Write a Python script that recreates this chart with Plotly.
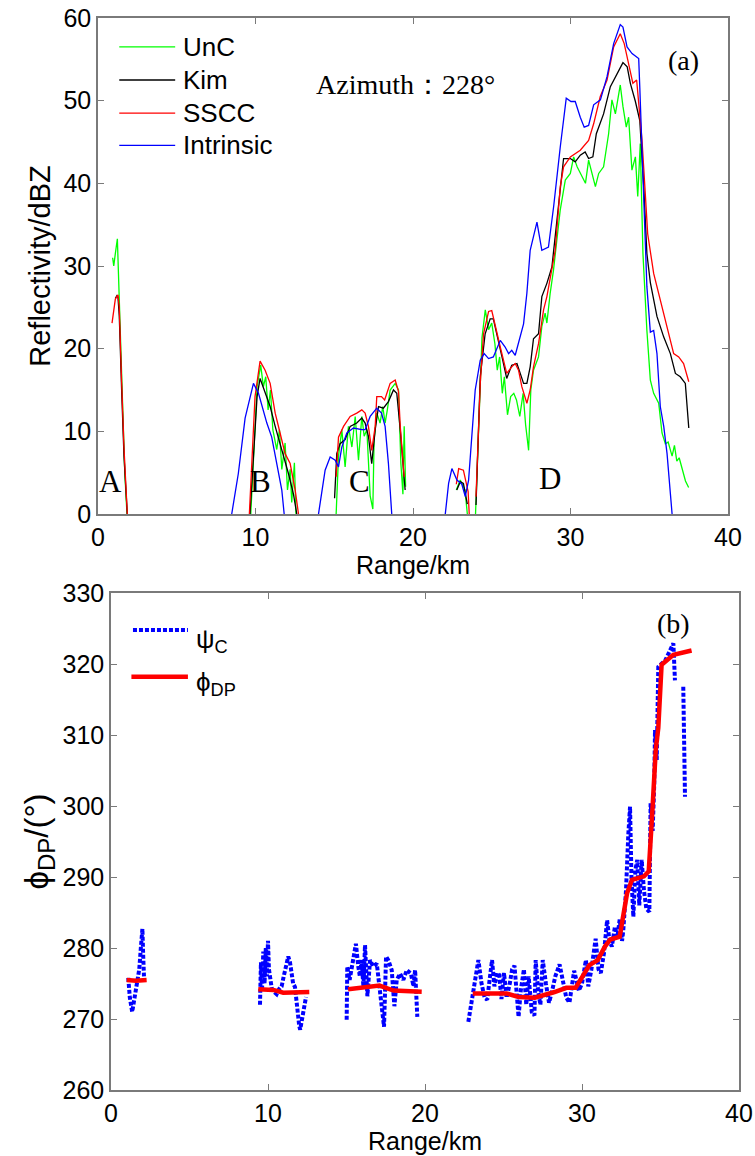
import plotly.graph_objects as go

# ---- panel (a): reflectivity along the ray, segments split by None ----
unc_x = [0.93, 1.0, 1.1, 1.23, 1.3, 1.35, 1.5, 1.6, 1.7, 1.84, None,
         9.7, 10.1, 10.33, 10.5, 10.65, 10.8, 10.95, 11.1, 11.35, 11.52, 11.67, 11.88, 12.03, 12.2, 12.3, 12.47, 12.57, None,
         15.12, 15.27, 15.48, 15.69, 15.9, 16.12, 16.33, 16.54, 16.75, 16.9, 17.07, 17.28, 17.45, 17.53, 17.7, 17.91,
         18.08, 18.23, 18.37, 18.55, 18.87, 19.08, 19.23, 19.36, 19.44, 19.53, None,
         22.75, 23.0, 23.3, 23.45, None,
         23.97, 24.17, 24.38, 24.59, 24.8, 25.0, 25.2, 25.35, 25.5, 25.67, 25.8, 26.0, 26.2, 26.4, 26.57, 26.78, 26.99,
         27.15, 27.34, 27.48, 27.65, 27.97, 28.18, 28.39, 28.5, 28.71, 28.92, 29.35, 29.67, 29.99, 30.2, 30.42, 30.74,
         30.95, 31.15, 31.36, 31.58, 31.79, 32.1, 32.42, 32.63, 32.85, 33.16, 33.33, 33.54, 33.69, 33.9, 34.12, 34.27,
         34.43, 34.6, 34.85, 35.07, 35.28, 35.6, 35.81, 36.02, 36.2, 36.45, 36.6, 36.75, 36.9, 37.1, 37.3, 37.5]
unc_y = [31, 30, 31.5, 33.3, 29, 26.5, 17, 11, 5, 0, None,
         0, 15.4, 18.0, 15.4, 16.6, 12.6, 15.0, 10.2, 7.8, 10.2, 5.4, 8.6, 2.9, 5.4, 1.4, 6.2, 0, None,
         0, 7.0, 10.2, 5.7, 10.6, 8.1, 11.8, 6.5, 11.8, 9.4, 10.2, 2.2, 0.6, 9.0, 12.2, 11.0,
         13.0, 11.0, 12.6, 15.0, 15.8, 15.0, 6.1, 2.4, 10.6, 3.3, None,
         2.9, 4.1, 2.9, 0, None,
         0, 11.2, 21.3, 24.7, 22.3, 23.1, 20.6, 17.4, 19.0, 14.6, 16.6, 12.0, 14.2, 14.6, 13.8, 11.8, 14.6,
         10.8, 7.7, 15.0, 17.4, 19.0, 22.7, 24.3, 23.1, 26.7, 29.5, 36.8, 40.4, 41.2, 43.2, 42.0, 40.8,
         40.0, 42.8, 41.2, 39.6, 41.2, 42.0, 46.0, 50.1, 48.4, 51.9, 49.3, 46.8, 48.0, 41.6, 43.2, 38.4,
         44.8, 31.5, 22.2, 16.2, 14.6, 13.4, 9.8, 8.5, 8.7, 7.0, 8.3, 6.4, 6.8, 5.2, 4.0, 3.2]

kim_x = [1.1, 1.2, 1.27, 1.35, 1.5, 1.65, 1.86, None,
         9.65, 10.1, 10.29, 10.61, 10.93, 11.25, 11.56, 11.78, 12.09, 12.41, 12.62, None,
         15.02, 15.16, 15.37, 15.69, 16.01, 16.43, 16.75, 16.96, 17.17, 17.38, 17.6, 17.81, 18.12, 18.44, 18.76,
         18.97, 19.19, 19.36, 19.5, None,
         22.78, 23.0, 23.2, 23.45, None,
         24.0, 24.27, 24.58, 24.9, 25.1, 25.33, 25.65, 25.95, 26.27, 26.6, 26.8, 27.02, 27.23, 27.44, 27.65, 27.97,
         28.18, 28.5, 28.82, 28.93, 29.31, 29.56, 29.99, 30.3, 30.62, 30.93, 31.15, 31.42, 31.64, 32.1, 32.53, 32.96,
         33.33, 33.6, 33.8, 34.12, 34.4, 34.65, 34.85, 35.07, 35.49, 35.92, 36.34, 36.66, 36.97, 37.29, 37.51]
kim_y = [26.1, 26.4, 26.2, 24, 15, 7, 0, None,
         0, 14.2, 16.4, 14.8, 13.0, 10.6, 8.5, 7.3, 4.9, 2.4, 0, None,
         1.9, 7.3, 8.5, 9.0, 10.6, 11.0, 11.6, 11.0, 9.4, 6.1, 10.2, 13.0, 12.8, 13.6, 15.0,
         14.6, 10.2, 6.1, 2.9, None,
         2.9, 3.9, 3.7, 1.2, None,
         1.1, 16.6, 21.8, 23.6, 23.6, 21.8, 19.0, 16.4, 18.0, 18.2, 17.0, 15.8, 15.8, 17.8, 21.2, 21.8,
         26.3, 27.9, 29.9, 31.9, 38.4, 43.0, 43.0, 42.6, 43.4, 43.8, 43.0, 43.2, 46.0, 48.4, 51.7, 53.3,
         54.6, 54.1, 52.1, 49.9, 47.6, 39.6, 31.5, 28.0, 23.9, 21.4, 19.4, 17.0, 16.6, 15.8, 10.4]

sscc_x = [0.89, 1.0, 1.1, 1.27, 1.35, 1.5, 1.65, 1.86, None,
          9.61, 9.97, 10.29, 10.61, 10.93, 11.25, 11.56, 11.88, 12.2, 12.52, 12.73, None,
          15.12, 15.27, 15.59, 16.01, 16.43, 16.75, 16.96, 17.17, 17.38, 17.6, 17.7, 18.0, 18.2, 18.55, 18.87,
          19.08, 19.19, 19.36, 19.44, None,
          22.75, 22.9, 23.2, 23.5, 23.57, None,
          24.0, 24.27, 24.48, 24.8, 25.0, 25.2, 25.54, 25.95, 26.27, 26.49, 26.7, 26.91, 27.23, 27.44, 27.65, 27.97,
          28.29, 28.5, 28.82, 29.03, 29.35, 29.56, 29.99, 30.62, 31.15, 31.47, 31.89, 32.32, 32.74, 33.16, 33.41,
          33.69, 33.96, 34.2, 34.33, 34.54, 34.75, 34.9, 35.28, 35.71, 36.13, 36.55, 36.87, 37.18, 37.51]
sscc_y = [23.1, 25, 26, 26.5, 25, 16, 8, 0, None,
          0, 14.2, 18.5, 17.4, 15.8, 12.2, 9.8, 7.3, 6.1, 2.9, 0, None,
          4.5, 9.3, 10.6, 11.8, 12.2, 12.6, 12.2, 10.6, 7.7, 10.6, 14.2, 14.2, 13.8, 15.8, 16.2,
          14.8, 10.6, 7.0, 4.5, None,
          3.6, 5.5, 5.3, 2.7, 0, None,
          2.1, 15.8, 21.8, 24.5, 24.6, 23.1, 20.2, 17.0, 17.8, 18.2, 17.4, 15.4, 13.4, 15.0, 17.8, 20.6,
          24.7, 26.3, 29.5, 31.9, 39.6, 42.0, 43.2, 44.0, 45.2, 47.2, 50.5, 52.5, 56.5, 58.1, 56.9,
          54.5, 52.1, 52.5, 49.5, 45.2, 38.7, 33.9, 29.1, 25.9, 22.6, 19.4, 19.0, 18.2, 16.0]

intr_x = [8.49, 8.91, 9.34, 9.87, 10.19, 10.72, 11.03, 11.35, 11.67, 11.82, None,
          14.0, 14.42, 14.74, 15.06, 15.27, 15.48, 15.8, 16.22, 16.75, 16.96, 17.28, 17.7, 18.0, 18.23, 18.44, 18.65, None,
          22.05, 22.26, 22.47, 22.79, 23.1, 23.32, 23.53, 23.95, 24.27, 24.52, 24.8, 25.1, 25.54, 25.85, 26.07,
          26.27, 26.49, 26.7, 27.02, 27.23, 27.44, 27.87, 28.18, 28.6, 28.93, 29.35, 29.73, 30.03, 30.3, 30.62,
          30.87, 31.15, 31.47, 31.9, 32.32, 32.74, 33.16, 33.33, 33.59, 33.91, 34.33, 34.4, 34.54, 34.68, 34.85,
          35.07, 35.28, 35.49, 35.7, 35.92, 36.13, 36.34, 36.45]
intr_y = [0, 4.9, 11.6, 15.8, 14.6, 11.0, 9.3, 6.1, 2.9, 0, None,
          0, 5.3, 6.9, 6.5, 5.7, 8.1, 9.8, 10.4, 10.2, 10.2, 11.8, 12.8, 12.2, 10.6, 6.1, 0, None,
          0, 3.7, 5.5, 4.1, 3.6, 2.1, 4.1, 15.0, 18.6, 19.4, 18.8, 19.0, 21.0, 20.2, 19.4,
          19.8, 19.2, 20.6, 23.0, 26.7, 31.9, 35.3, 31.9, 32.3, 37.2, 44.4, 50.3, 49.9, 49.9, 48.0,
          46.8, 47.0, 49.5, 50.1, 52.9, 56.9, 59.2, 58.9, 56.5, 55.7, 55.1, 51.6, 43.6, 35.5, 27.5,
          22.0, 22.2, 19.4, 13.0, 10.6, 7.3, 2.5, 0]

# ---- panel (b): phase ----
psi_x = [1.1, 1.2, 1.35, 1.5, 1.65, 1.8, 1.9, 2.0, 2.05, 2.1, None,
         9.49, 9.55, 9.62, 9.7, 9.78, 9.86, 9.93, 10.0, 10.06, 10.13, 10.24, 10.4, 10.55, 10.7, 10.87, 11.0, 11.15,
         11.29, 11.4, 11.5, 11.6, 11.72, 11.8, 11.87, 11.99, 12.05, 12.15, 12.25, 12.42, None,
         15.01, 15.05, 15.2, 15.3, 15.44, 15.6, 15.75, 15.85, 15.96, 16.08, 16.18, 16.33, 16.5, 16.7, 16.93, 17.13,
         17.3, 17.39, 17.52, 17.66, 17.88, 18.05, 18.2, 18.41, 18.62, 18.84, 19.1, 19.27, 19.37, 19.51, None,
         22.76, 23.0, 23.2, 23.4, 23.6, 23.8, 23.96, 24.1, 24.27, 24.42, 24.6, 24.73, 24.87, 25.03, 25.2, 25.4,
         25.55, 25.7, 25.8, 25.96, 26.1, 26.3, 26.45, 26.6, 26.8, 26.97, 27.05, 27.2, 27.35, 27.5, 27.7, 27.9,
         28.1, 28.3, 28.57, 28.8, 29.0, 29.2, 29.5, 29.8, 30.0, 30.25, 30.4, 30.6, 30.87, 31.05, 31.2, 31.4,
         31.6, 31.75, 31.9, 32.1, 32.25, 32.4, 32.55, 32.63, 32.8, 32.95, 33.06, 33.15, 33.27, 33.4, 33.52,
         33.65, 33.8, 33.95, 34.1, 34.29, 34.37, 34.5, 34.6, 34.65, 34.76, 34.86, 35.3, 35.82, 35.92, None,
         36.45, 36.56]
psi_y = [275.8, 273, 271, 273, 275, 277, 280, 282.7, 279, 276, None,
         272, 278, 274, 279.5, 275, 280, 276, 281, 277, 275.5, 274.3, 273.8, 273.5, 274.2, 274.6, 276, 277.5,
         278.8, 278, 276.5, 275, 274.5, 272.5, 271.5, 269, 268.5, 270, 271.3, 273.1, None,
         269.9, 277.4, 275.5, 277, 278.8, 280.6, 277.4, 276, 278.3, 274.5, 280.4, 273.2, 278.3, 277.4, 277.8, 274.1,
         270.9, 268.9, 278.8, 278.3, 276.9, 271.8, 275.5, 276.4, 275.5, 276.9, 276.4, 274.6, 276.9, 270.3, None,
         269.6, 273, 275.5, 278.3, 275, 273, 272.7, 275, 278.3, 274.6, 276.5, 276.2, 272.8, 276.5, 273, 275,
         277, 277.5, 275, 270.3, 274, 277, 272, 276, 271, 270.5, 278.3, 274, 272, 278.3, 275, 272.3,
         274, 276, 277.7, 275, 273, 272.3, 276.8, 274, 275, 278.3, 274.6, 277, 281.3, 277, 276.5, 279.3,
         283.9, 281, 280.2, 283, 281.5, 284, 281, 282.5, 288, 296, 299.9, 290, 284.4, 291, 292.4,
         286, 292.4, 288, 285.5, 285.1, 300.4, 296.5, 303, 310.7, 306.5, 319.6, 320.5, 322.9, 317.7, None,
         316.8, 301.3]

phi_x = [1.0, 1.6, 2.27, None,
         9.38, 10.34, 10.97, 12.63, None,
         15.1, 16.3, 17.1, 18.0, 19.79, None,
         23.04, 25.2, 25.96, 27.0, 28.25, 29.0, 29.6, 30.1, 30.47, 31.0, 31.46, 31.8, 32.4, 32.87, 33.18,
         33.95, 34.25, 34.5, 34.7, 34.86, 35.07, 35.82, 36.98]
phi_y = [275.5, 275.4, 275.5, None,
         274.2, 274.1, 273.7, 273.8, None,
         274.2, 274.5, 274.7, 274.0, 273.85, None,
         273.6, 273.6, 273.1, 273.0, 273.8, 274.4, 274.4, 276.4, 277.6, 278.3, 280.2, 281.2, 281.6, 287.7, 289.6,
         290.1, 290.8, 300, 308, 311, 319.9, 321.3, 321.9]

x_ticks = [0, 10, 20, 30, 40]
refl_ticks = [0, 10, 20, 30, 40, 50, 60]
phase_ticks = [260, 270, 280, 290, 300, 310, 320, 330]

W, H = 755, 1156
SANS = "Liberation Sans, Arial, sans-serif"
SERIF = "Liberation Serif, Times New Roman, serif"
AXIS_GREY = "#7a7a7a"

fig = go.Figure()

series_a = [
    ("UnC", unc_x, unc_y, "#00ff00"),
    ("Kim", kim_x, kim_y, "#000000"),
    ("SSCC", sscc_x, sscc_y, "#ff0000"),
    ("Intrinsic", intr_x, intr_y, "#0000ff"),
]
for name, xs, ys, col in series_a:
    fig.add_trace(go.Scatter(x=xs, y=ys, mode="lines", name=name,
                             line=dict(color=col, width=1.3),
                             connectgaps=False, showlegend=False,
                             xaxis="x", yaxis="y"))

fig.add_trace(go.Scatter(x=psi_x, y=psi_y, mode="lines", name="psi_C",
                         line=dict(color="#0000ff", width=4, dash="4px,2px"),
                         connectgaps=False, showlegend=False, xaxis="x2", yaxis="y2"))
fig.add_trace(go.Scatter(x=phi_x, y=phi_y, mode="lines", name="phi_DP",
                         line=dict(color="#ff0000", width=4.5),
                         connectgaps=False, showlegend=False, xaxis="x2", yaxis="y2"))


def axis(domain, rng, ticks, title, anchor, title_size=25):
    return dict(domain=domain, range=rng, tickvals=ticks, anchor=anchor,
                ticks="inside", ticklen=6, tickcolor=AXIS_GREY, tickwidth=1,
                showline=True, linecolor=AXIS_GREY, linewidth=1.5, mirror="ticks",
                showgrid=False, zeroline=False,
                tickfont=dict(family=SANS, size=25, color="black"),
                title=dict(text=title, font=dict(family=SANS, size=title_size, color="black"), standoff=4))


def px_x(p):
    return p / W


def px_y(p):
    return 1 - p / H


fig.update_layout(
    xaxis=axis([px_x(98), px_x(728)], [0, 40], x_ticks, "Range/km", "y"),
    yaxis=axis([px_y(514), px_y(18)], [0, 60], refl_ticks, "Reflectivity/dBZ", "x", title_size=29),
    xaxis2=axis([px_x(111), px_x(739)], [0, 40], x_ticks, "Range/km", "y2"),
    yaxis2=axis([px_y(1090), px_y(593)], [260, 330], phase_ticks,
                "ϕ<sub><span style='font-size:24px'>DP</span></sub>/(°)", "x2", title_size=33),
    width=W, height=H,
    margin=dict(l=0, r=0, t=0, b=0, autoexpand=False),
    plot_bgcolor="white", paper_bgcolor="white",
    showlegend=False,
)

# hand-drawn legends (MATLAB style)
legend_a = [("UnC", "#00ff00", 56.5), ("Kim", "#000000", 52.5), ("SSCC", "#ff0000", 48.5), ("Intrinsic", "#0000ff", 44.6)]
for label, col, yy in legend_a:
    fig.add_shape(type="line", xref="x", yref="y", x0=1.35, x1=4.9, y0=yy, y1=yy,
                  line=dict(color=col, width=1.3))
    fig.add_annotation(x=5.3, y=yy, xref="x", yref="y", text=label, showarrow=False,
                       xanchor="left", yanchor="middle", font=dict(family=SANS, size=26, color="black"))

fig.add_shape(type="line", xref="x2", yref="y2", x0=1.4, x1=4.9, y0=324.8, y1=324.8,
              line=dict(color="#0000ff", width=4, dash="4px,2px"))
fig.add_annotation(x=5.3, y=323.3, xref="x2", yref="y2", text="ψ<sub>C</sub>", showarrow=False,
                   xanchor="left", yanchor="middle", font=dict(family=SANS, size=26, color="black"))
fig.add_shape(type="line", xref="x2", yref="y2", x0=1.3, x1=4.9, y0=318.2, y1=318.2,
              line=dict(color="#ff0000", width=4.5))
fig.add_annotation(x=5.3, y=317.3, xref="x2", yref="y2", text="ϕ<sub>DP</sub>", showarrow=False,
                   xanchor="left", yanchor="middle", font=dict(family=SANS, size=26, color="black"))

# region letters and panel labels
for txt, xx, yy in [("A", 0.8, 3.9), ("B", 10.34, 3.9), ("C", 16.6, 3.9), ("D", 28.7, 4.3)]:
    fig.add_annotation(x=xx, y=yy, xref="x", yref="y", text=txt, showarrow=False,
                       font=dict(family=SERIF, size=31, color="black"))
fig.add_annotation(x=19.5, y=51.9, xref="x", yref="y", text="Azimuth：228°", showarrow=False,
                   font=dict(family=SERIF, size=28, color="black"))
fig.add_annotation(x=37.2, y=54.9, xref="x", yref="y", text="(a)", showarrow=False,
                   font=dict(family=SERIF, size=28, color="black"))
fig.add_annotation(x=35.8, y=325.7, xref="x2", yref="y2", text="(b)", showarrow=False,
                   font=dict(family=SERIF, size=28, color="black"))

# drop the default body margin so the figure sits at the page's top-left corner
fig.write_html("out.html", config={"displayModeBar": False},
               post_script="document.body.style.margin='0';")
